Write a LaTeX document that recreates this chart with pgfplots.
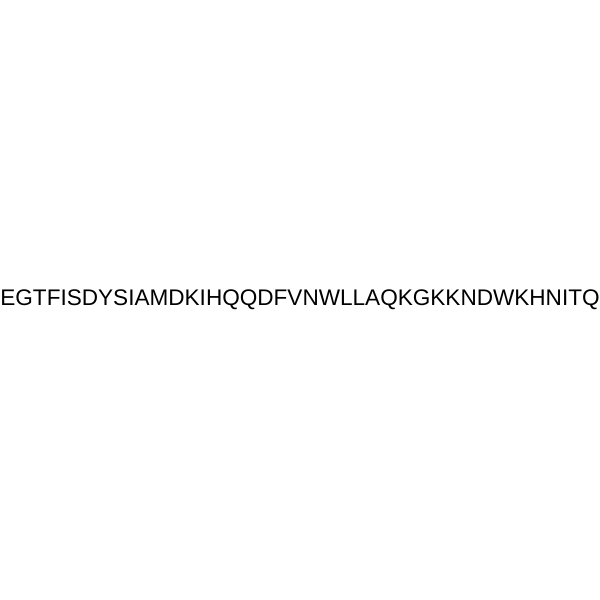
\documentclass[border=0pt]{standalone}
\usepackage{pgfplots}
\pgfplotsset{compat=1.18}
\usepackage{fontspec}
\setmainfont{Liberation Sans}
\begin{document}
\begin{tikzpicture}
\begin{axis}[
  width=300pt, height=300pt, scale only axis,
  xmin=0, xmax=1, ymin=0, ymax=1,
  hide axis, clip=false
]
\addplot[draw=none, mark=none] coordinates {(0,0) (1,1)};
\fill[white] (rel axis cs:0,0) rectangle (rel axis cs:1,1);
\node[inner sep=0pt, anchor=base] at (axis cs:0.5,0.49)
  {\resizebox{299.6pt}{!}{EGTFISDYSIAMDKIHQQDFVNWLLAQKGKKNDWKHNITQ}};
\end{axis}
\end{tikzpicture}
\end{document}
